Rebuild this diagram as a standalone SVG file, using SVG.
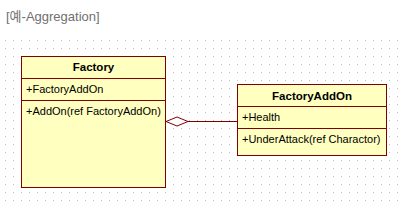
<svg xmlns="http://www.w3.org/2000/svg" width="405" height="206" viewBox="0 0 405 206">
<style>
.box{fill:#ffffc0;stroke:#800000;stroke-width:1}
.div{stroke:#800000;stroke-width:1}
.t{font-family:"Liberation Sans",Arial,sans-serif;font-size:11px;fill:#000}
.b{font-family:"Liberation Sans",Arial,sans-serif;font-size:11.5px;font-weight:bold;fill:#000;text-anchor:middle}
.cap{font-family:"Liberation Sans","Noto Sans CJK KR",sans-serif;font-size:13px;fill:#707070}
</style>
<defs>
<pattern id="grid" x="5" y="40" width="8" height="8" patternUnits="userSpaceOnUse">
<rect x="0" y="0" width="1" height="1" fill="#c0c0c0"/>
</pattern>
</defs>
<rect width="405" height="206" fill="#ffffff"/>
<rect x="5" y="40" width="393" height="161" fill="url(#grid)"/>
<text class="cap" x="6" y="20.5">[예-Aggregation]</text>
<g id="connectors">
<line x1="188" y1="121.5" x2="237" y2="121.5" stroke="#800000" stroke-width="1"/>
<polygon points="166,121.5 177,117 188,121.5 177,126" fill="#ffffff" stroke="#800000" stroke-width="1"/>
</g>
<g id="Factory">
<rect class="box" x="21.5" y="56.5" width="144" height="131"/>
<line class="div" x1="21.5" y1="78.5" x2="165.5" y2="78.5"/>
<line class="div" x1="21.5" y1="100.5" x2="165.5" y2="100.5"/>
<text class="b" x="93.5" y="71">Factory</text>
<text class="t" x="26" y="93">+FactoryAddOn</text>
<text class="t" x="26" y="114.5">+AddOn(ref FactoryAddOn)</text>
</g>
<g id="FactoryAddOn">
<rect class="box" x="237.5" y="84.5" width="149" height="71"/>
<line class="div" x1="237.5" y1="106.5" x2="386.5" y2="106.5"/>
<line class="div" x1="237.5" y1="128.5" x2="386.5" y2="128.5"/>
<text class="b" x="312" y="99.5">FactoryAddOn</text>
<text class="t" x="242" y="121">+Health</text>
<text class="t" x="242" y="143">+UnderAttack(ref Charactor)</text>
</g>
</svg>
